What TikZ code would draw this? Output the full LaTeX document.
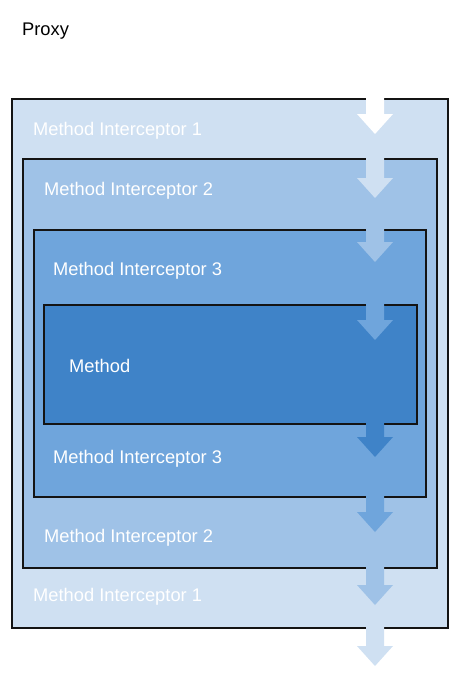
\documentclass[tikz,border=0pt]{standalone}
\usepackage{fontspec}
\setmainfont{Liberation Sans}
\usepackage{tikz}
\usetikzlibrary{positioning}

\definecolor{layerA}{HTML}{CFE0F2}
\definecolor{layerB}{HTML}{9FC2E7}
\definecolor{layerC}{HTML}{6FA5DC}
\definecolor{layerD}{HTML}{3F83C8}
\definecolor{edge}{HTML}{141414}

\tikzset{
  layer/.style={rectangle, draw=edge, line width=1.3pt, inner sep=0pt},
  caption/.style={anchor=base west, text=white, inner sep=0pt, font=\fontsize{18.3}{22}\selectfont},
  flow/.pic={\fill (-9,-42) -- (9,-42) -- (9,-20) -- (18,-20) -- (0,0) -- (-18,-20) -- (-9,-20) -- cycle;}
}

\begin{document}
\begin{tikzpicture}[x=1pt,y=-1pt]
            \useasboundingbox (0,0) rectangle (459,685);
            \node[caption, text=black] (proxy) at (22,36) {Proxy};
            \node[layer, fill=layerA, minimum width=436pt, minimum height=529pt] (mi1) at (230,363.5) {};
            \node[layer, fill=layerB, minimum width=414pt, minimum height=409pt] (mi2) at (230,363.5) {};
            \node[layer, fill=layerC, minimum width=392pt, minimum height=267pt] (mi3) at (230,363.5) {};
            \node[layer, fill=layerD, minimum width=373pt, minimum height=119pt] (method) at (230.5,364.5) {};
            \node[caption] (mi1in) at (33,135) {Method Interceptor 1};
            \node[caption] (mi2in) at (44,195) {Method Interceptor 2};
            \node[caption] (mi3in) at (53,275) {Method Interceptor 3};
            \node[caption] (methodlbl) at (69,372) {Method};
            \node[caption] (mi3out) at (53,463) {Method Interceptor 3};
            \node[caption] (mi2out) at (44,542) {Method Interceptor 2};
            \node[caption] (mi1out) at (33,601) {Method Interceptor 1};
            % call going in
            \pic[fill=white] at (375,134) {flow};
            \pic[fill=layerA] at (375,198) {flow};
            \pic[fill=layerB] at (375,262) {flow};
            \pic[fill=layerC] at (375,340) {flow};
            % call coming back out
            \pic[fill=layerD] at (375,457) {flow};
            \pic[fill=layerC] at (375,532) {flow};
            \pic[fill=layerB] at (375,605) {flow};
            \pic[fill=layerA] at (375,666) {flow};
\end{tikzpicture}
\end{document}
